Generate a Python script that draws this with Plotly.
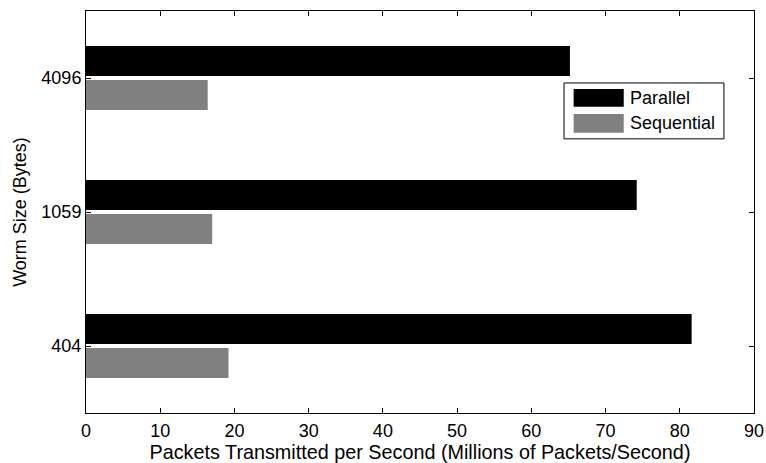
import plotly.graph_objects as go

sizes = ["404", "1059", "4096"]
parallel = [81.6, 74.2, 65.2]
sequential = [19.2, 17.0, 16.4]
x_ticks = [0, 10, 20, 30, 40, 50, 60, 70, 80, 90]
series_names = ["Parallel", "Sequential"]
series_colors = ["#000000", "#808080"]

FONT = "Liberation Sans, Arial, sans-serif"
TICK_FS = 18
LEG_FS = 18

fig = go.Figure()
fig.add_trace(go.Bar(y=sizes, x=sequential, orientation="h", name=series_names[1],
                     marker=dict(color=series_colors[1], line=dict(width=0)), showlegend=False))
fig.add_trace(go.Bar(y=sizes, x=parallel, orientation="h", name=series_names[0],
                     marker=dict(color=series_colors[0], line=dict(width=0)), showlegend=False))

# custom legend (box, wide swatches, labels) in paper coordinates
fig.add_shape(type="rect", xref="paper", yref="paper", x0=0.7156, x1=0.955, y0=0.682, y1=0.821,
              line=dict(color="black", width=1), fillcolor="white", layer="above")
sw_y = [(0.762, 0.806), (0.697, 0.744)]
for name, color, (y0, y1) in zip(series_names, series_colors, sw_y):
    fig.add_shape(type="rect", xref="paper", yref="paper", x0=0.730, x1=0.805, y0=y0, y1=y1,
                  line=dict(width=0), fillcolor=color, layer="above")
    fig.add_annotation(xref="paper", yref="paper", x=0.812, y=(y0 + y1) / 2, text=name,
                       showarrow=False, xanchor="left", yanchor="middle",
                       font=dict(family=FONT, size=LEG_FS, color="black"))

fig.update_layout(
    width=766, height=463,
    margin=dict(l=86, r=12, t=11, b=50),
    paper_bgcolor="white", plot_bgcolor="white",
    barmode="group", bargap=0.493, bargroupgap=0.117,
    font=dict(family=FONT, size=TICK_FS, color="black"),
    showlegend=False,
)
fig.update_xaxes(range=[0, 90], tickvals=x_ticks, ticks="inside", ticklen=5,
                 showline=True, linecolor="black", linewidth=1, mirror="ticks",
                 showgrid=False, zeroline=False, tickcolor="black", automargin=False,
                 ticklabelstandoff=1,
                 tickfont=dict(family=FONT, size=TICK_FS, color="black"),
                 title=dict(text="Packets Transmitted per Second (Millions of Packets/Second)",
                            font=dict(family=FONT, size=19.8, color="black"), standoff=2))
fig.update_yaxes(type="category", range=[-0.5, 2.5], ticks="inside", ticklen=5,
                 showline=True, linecolor="black", linewidth=1, mirror="ticks",
                 showgrid=False, tickcolor="black", automargin=False,
                 tickfont=dict(family=FONT, size=TICK_FS, color="black"),
                 title=dict(text="Worm Size (Bytes)",
                            font=dict(family=FONT, size=18, color="black"), standoff=10))

fig.write_html("out.html")
